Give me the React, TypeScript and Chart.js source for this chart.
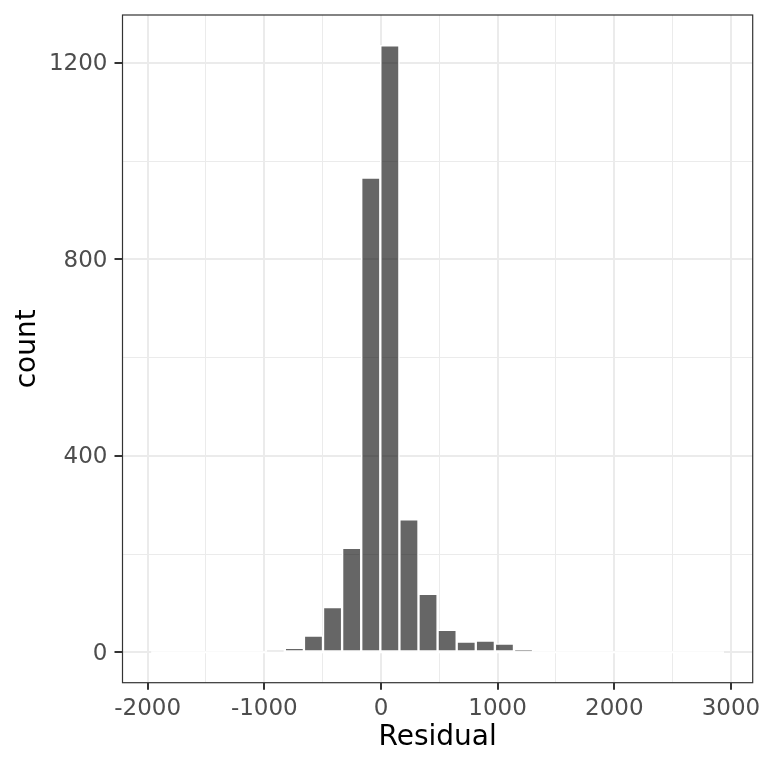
import React, { useEffect, useRef } from "react";
import { Chart, registerables } from "chart.js";

Chart.register(...registerables);

// Histogram bins (centres of 30 equal-width bins) and counts
const binCenters = [
  -1888.2, -1724.5, -1560.8, -1397.1, -1233.4, -1069.7, -906.0, -742.3, -578.6, -414.9,
  -251.2, -87.5, 76.2, 239.9, 403.6, 567.3, 731.0, 894.7, 1058.4, 1222.1,
  1385.8, 1549.5, 1713.2, 1876.9, 2040.6, 2204.3, 2368.0, 2531.7, 2695.4, 2859.1,
];
const counts = [
  0, 0, 0, 0, 0, 0, 3, 9, 34, 92,
  213, 967, 1236, 271, 119, 46, 22, 24, 18, 4,
  0, 0, 0, 0, 0, 0, 0, 0, 0, 0,
];

const xTickValues = [-2000, -1500, -1000, -500, 0, 500, 1000, 1500, 2000, 2500, 3000];
const xLabelValues = [-2000, -1000, 0, 1000, 2000, 3000];
const yTickValues = [0, 200, 400, 600, 800, 1000, 1200];
const yLabelValues = [0, 400, 800, 1200];
const xLimits = [-2215.6, 3186.6];
const yLimits = [-61.8, 1297.8];

const xTitle = "Residual";
const yTitle = "count";

const FONT = "'DejaVu Sans', 'Liberation Sans', sans-serif";

const panelPlugin = {
  id: "panelPlugin",
  afterDatasetsDraw(chart: any) {
    const { ctx, scales } = chart;
    const xs = scales.x;
    const ys = scales.y;
    const half = (binCenters[1] - binCenters[0]) / 2;
    const y0 = ys.getPixelForValue(0);
    ctx.save();
    ctx.strokeStyle = "#FFFFFF";
    ctx.lineWidth = 2;
    ctx.beginPath();
    ctx.moveTo(xs.getPixelForValue(binCenters[0] - half), y0);
    ctx.lineTo(xs.getPixelForValue(binCenters[binCenters.length - 1] + half), y0);
    ctx.stroke();
    ctx.restore();
  },
  afterDraw(chart: any) {
    const { ctx, chartArea } = chart;
    ctx.save();
    ctx.strokeStyle = "#333333";
    ctx.lineWidth = 1.2;
    ctx.strokeRect(
      chartArea.left,
      chartArea.top,
      chartArea.right - chartArea.left,
      chartArea.bottom - chartArea.top
    );
    ctx.restore();
  },
};

export default function App() {
  const canvasRef = useRef<HTMLCanvasElement | null>(null);

  useEffect(() => {
    const canvas = canvasRef.current;
    if (!canvas) return;
    const chart = new Chart(canvas, {
      type: "bar",
      data: {
        datasets: [
          {
            data: binCenters.map((x, i) => ({ x, y: counts[i] })),
            backgroundColor: "rgba(0,0,0,0.6)",
            borderColor: "#FFFFFF",
            borderWidth: 1.5,
            borderSkipped: false,
            barPercentage: 1,
            categoryPercentage: 1,
          },
        ],
      },
      options: {
        animation: false,
        responsive: false,
        devicePixelRatio: 1,
        layout: { padding: { left: 0, top: 15, right: 15.3, bottom: 0 } },
        plugins: {
          legend: { display: false },
          tooltip: { enabled: false },
          title: { display: false },
        },
        scales: {
          x: {
            type: "linear",
            min: xLimits[0],
            max: xLimits[1],
            offset: false,
            afterBuildTicks: (s: any) => {
              s.ticks = xTickValues.map((v) => ({ value: v }));
            },
            afterFit: (s: any) => {
              s.height = 85.3;
              s.paddingLeft = 0;
              s.paddingRight = 0;
            },
            ticks: {
              autoSkip: false,
              maxRotation: 0,
              minRotation: 0,
              padding: 5.5,
              color: "#4D4D4D",
              font: { family: FONT, size: 23 },
              callback: (v: any) => (xLabelValues.includes(Number(v)) ? String(v) : ""),
            },
            grid: {
              offset: false,
              color: "#EBEBEB",
              lineWidth: (c: any) => (c.tick && xLabelValues.includes(c.tick.value) ? 2 : 1),
              tickLength: 7,
              tickWidth: 2,
              tickColor: (c: any) =>
                c.tick && xLabelValues.includes(c.tick.value) ? "#333333" : "rgba(0,0,0,0)",
            },
            border: { display: false },
            title: {
              display: true,
              text: xTitle,
              color: "#000000",
              font: { family: FONT, size: 28 },
              padding: { top: 0, bottom: 13 },
            },
          },
          y: {
            type: "linear",
            min: yLimits[0],
            max: yLimits[1],
            afterBuildTicks: (s: any) => {
              s.ticks = yTickValues.map((v) => ({ value: v }));
            },
            afterFit: (s: any) => {
              s.width = 122.5;
              s.paddingTop = 0;
              s.paddingBottom = 0;
            },
            ticks: {
              autoSkip: false,
              padding: 7,
              labelOffset: 1.5,
              color: "#4D4D4D",
              font: { family: FONT, size: 23 },
              callback: (v: any) => (yLabelValues.includes(Number(v)) ? String(v) : ""),
            },
            grid: {
              color: "#EBEBEB",
              lineWidth: (c: any) => (c.tick && yLabelValues.includes(c.tick.value) ? 2 : 1),
              tickLength: 8,
              tickWidth: 2,
              tickColor: (c: any) =>
                c.tick && yLabelValues.includes(c.tick.value) ? "#333333" : "rgba(0,0,0,0)",
            },
            border: { display: false },
            title: {
              display: true,
              text: yTitle,
              color: "#000000",
              font: { family: FONT, size: 28 },
              padding: { top: 11, bottom: 0 },
            },
          },
        },
      },
      plugins: [panelPlugin],
    } as any);
    return () => chart.destroy();
  }, []);

  return (
    <div
      style={{
        position: "absolute",
        left: 0,
        top: 0,
        width: 768,
        height: 768,
        background: "#FFFFFF",
      }}
    >
      <canvas ref={canvasRef} width={768} height={768} style={{ width: 768, height: 768, display: "block" }} />
    </div>
  );
}
